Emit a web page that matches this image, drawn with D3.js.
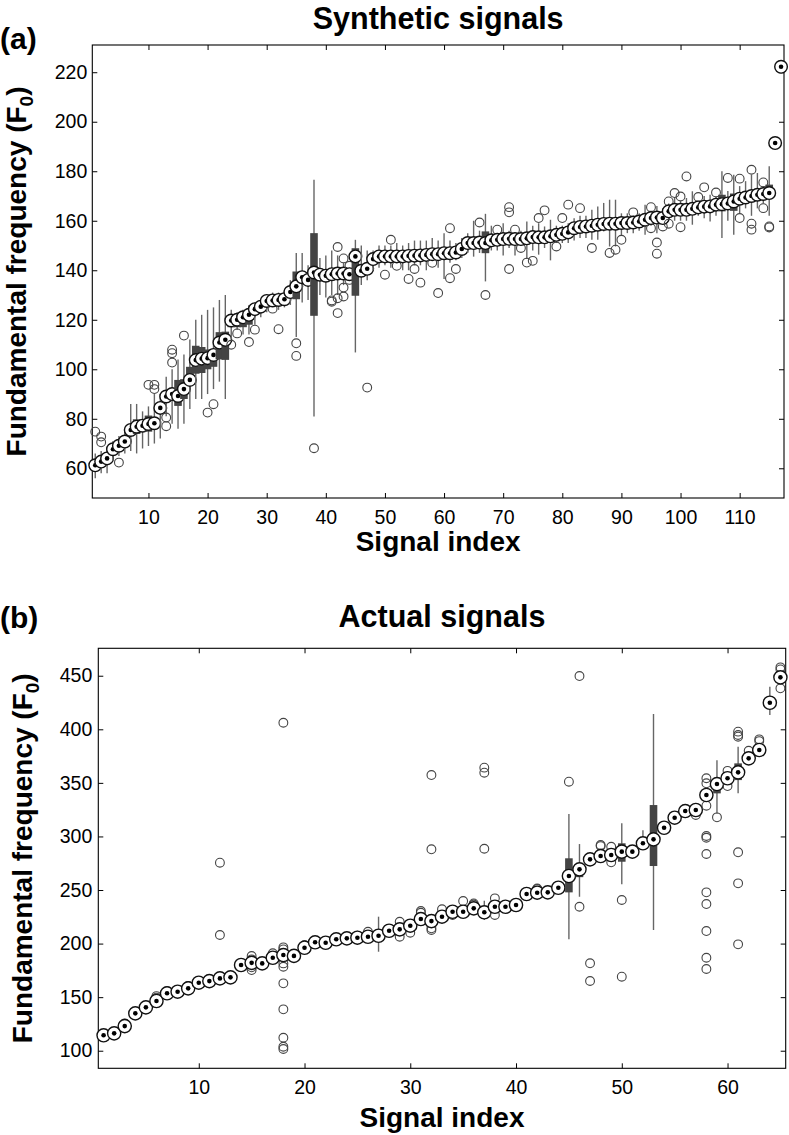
<!DOCTYPE html>
<html><head><meta charset="utf-8">
<script src="https://cdn.jsdelivr.net/npm/d3@7"></script>
<style>
body{margin:0;background:#fff}
text{font-family:"Liberation Sans",Arial,Helvetica,sans-serif}
</style>
</head><body>
<svg id="c" width="789" height="1135"></svg>
<script>
// ---------- Panel (a): Synthetic signals ----------
const medA = [61.2,62.7,64,67.7,69.1,70.8,75.5,76.8,77.2,77.9,
78.2,84.4,89,90,89.2,92,95.7,103.7,104.3,104.5,
105.8,110.8,111.9,119.7,120,121,122,124.3,125.3,127.6,
127.8,128,128.3,131.2,133.5,137.2,136.1,139.1,138.2,137.8,
138.4,138.7,138.7,138.4,145.6,139.8,140.6,144.5,145.6,145.6,
145.6,145.6,145.6,145.8,145.9,146,146.2,146.5,146.5,146.9,
146.9,147.2,148.6,151,151,151.2,151,152.1,152.3,152.6,
152.7,152.6,152.6,152.9,153.4,153.3,153.3,153.7,154.3,154.7,
155.3,157,157.5,157.7,158,158.4,158.7,158.8,158.8,159.1,
159.1,159.3,159.7,160.4,161.1,161.3,161.1,163.8,164.4,164.4,
164.4,164.8,165.4,165.7,165.8,166.5,166.7,167,167.8,168.9,
169.4,170,170.5,170.8,171.2,191.4,222.2];
const q1A = [60,61.5,63,66.5,68,69.5,74,73.9,75,74.8,
76.5,82,87.5,88,85.2,88,93.7,98.2,98.5,100,
101,104,103.8,117,117,117,118,122,124,126.5,
126.5,127,127,129.5,128.3,135,134,121.6,136,135.5,
136,136.5,136.5,136.5,129.7,138,139,143.5,144.5,144.5,
144.5,144.5,144.5,145,145,145,145,145.5,145.5,145.5,
146,146,147.5,150,150,150,146.9,151,151,151.5,
151.5,151.5,151.5,152,152.5,152.5,152.5,152.5,153.5,154,
154.5,156,156.5,156.5,157,157.5,157.5,157,157,158,
158,158.5,159,159.5,160,160,160,163,163.5,163.5,
163.5,164,164.5,165,165,165.5,163.8,166,164,168,
168.5,169,169.5,170,170.5,191,222];
const q3A = [62.2,63.5,65,68.5,70,72,77,79.8,79,81.3,
80,86,90.5,92,95.7,96,101,109.5,109,108,
108,115,115.2,121,121,122,123,125,126,128.5,
129,129,129.5,132.5,139.5,139,138,155,140,139.5,
140,141,141,140.5,148.9,142,142,145.5,146.5,146.5,
146.5,146.5,146.5,146.5,147,147,147,147.5,147.5,148,
148,148,149.5,152,152,152.5,155.7,153,153.5,153.5,
154,153.5,153.5,154,154.5,154.5,154.5,155,155.5,155.5,
156,158,158.5,158.5,159,159.5,159.5,161,161,160,
160,160.5,160.5,161.5,162,162.5,162,164.5,165,165.5,
165.5,166,166.5,166.5,167,167.5,170.5,168,171,170,
170.5,171,171.5,172,174.6,192,222.5];
const loA = [56,58,58,63,65,66,67,66,68,69,
70,72,81,78,76,78,84,88,88,90,
92,95,88,112,116,114,114,118,121,123,
125.5,124,125,126,113,127,128,80.9,130,129,
130,130,134,137,106.8,134,136,140,141,142,
141,143,140,140,142,142,140,144,141,136.5,
143,144,145,147,145.5,147,135.5,148,148,146,
149,146,150,144.5,148,146.3,149,144,151,151,
151,152,153,153,152.3,152.3,155.7,149.6,149.6,154,
155,155,156,154.3,158,155,158.5,160.5,160,160,
160,158.4,162,161,159.7,162,153,160,154.3,163,
165,162,165,167,162,191,222];
const hiA = [66,67,68,71,73,75,86,86,83,85,
90,90,97,100,104,106,112,120,122,124,
125,128,130,124,123,124,126,127,128,130,
131,131,132,136,147,147,142,176.6,145,146,
148,146,143,141,152.3,150,148,148,150,150,
150,151,150,151,152,152,152,153,152,155,
152,151,153,155,160,156,162.8,158,155,159,
156,155,156,159.7,158,159,157.7,160.4,158,158,
159,161,162,162,164.4,165.8,167.2,168.5,168.5,163,
163,162,163,166.5,164,166,165,167,169.5,168,
169.2,171.9,168,170,170.5,170,180,172,178.6,174,
176,178.6,179.3,174,182,192,222.5];
const outA = [[74.8],[72.8,70.5],[],[],[62.3],[],[],[],[77.5],[93.7],
[93.7,92],[],[80.5,77],[107.9,106.5,102.7],[],[113.6],[],[],[],[82.5],
[85.9],[],[],[109.9],[114.5],[],[111],[116],[],[],
[124.5],[116.2],[],[],[110.5,105.4],[],[],[68.1],[],[],
[127.8,127.3],[149.4,122.7,128.7],[144.8,133,129.4],[141.8,136.1],[],[],[92.6],[],[],[138.2],
[152.3],[141.8],[],[136.5],[140.5],[135],[],[143],[130.8],[],
[157,136.8],[140.5],[],[],[],[159.3],[130],[],[156.4],[],
[165.5,163.4,140.5],[156.4],[149],[143.1],[143.8],[161.1],[164.2],[],[149.6],[161.1],
[166.5],[],[165.1],[],[149],[],[],[147],[148.3],[152.3],
[],[163.4],[],[],[165.5,157],[151.2,146.7],[157.7],[158.8,167.8],[171.2],[169.8,157.4],
[177.9],[],[169.6],[173.5],[],[171.4],[],[177.3],[],[177,161.1],
[],[180.6,158.8,156.4],[],[175.5,165.1],[157.7,157.3],[],[]];
const xTicksA = [10,20,30,40,50,60,70,80,90,100,110];
const yTicksA = [60,80,100,120,140,160,180,200,220];

// ---------- Panel (b): Actual signals ----------
const medB = [114.4,116.2,123,134.9,140.5,146.4,153.6,155.1,158.2,163.5,
165,167.5,168.5,180,182,181.5,186.8,189.3,188.5,196.1,
201.2,200.8,204,204.9,205.5,206.4,207.3,212,213.3,216.7,
222.9,221,225.1,229.7,229.7,232.9,229.2,234.4,234.4,236,
246.3,247.5,247.8,252.1,263.1,269.3,278.6,281.7,282.7,285.8,
285.8,293.6,297.3,308.1,317.5,323.7,324.7,338.7,348.9,354.3,
359.8,372.9,380.7,424.8,448.5];
const q1B = [113.5,115,122,134,139.5,145,152.5,154,157,162.5,
164,166.5,167.5,179,180.5,180.5,186,188,187.5,195,
200.5,200,203,204,204.5,205.5,206,211,212,216,
222,220,224,229,229,232,228,233.5,233.5,235,
245.5,246.5,247,251,247.8,262,277.5,280.5,281.5,276.4,
285,292.5,272.4,307,316.5,322.5,323.5,337.5,340.2,353,
352.6,372,379.5,423.5,447.5];
const q3B = [115.5,117.5,124.5,136,141.5,147.5,154.5,156,159,164.5,
166,168.5,169.5,181,183.5,182.5,188,191,190,197,
202,202,205,206,206.5,207.5,208.5,213,214.5,217.5,
224,222,226,230.5,231,234,230.5,235.5,235.5,237,
247.5,248.5,249,253,279.6,273,279.5,283,284,293.6,
287,294.5,329.3,309,318.5,324.5,325.5,340,349.5,355.5,
368.2,374,382,426,449.5];
const loB = [112,114,121,133,138,144,151,153,156,161,
163,165,166,178,179,179,184,186,184,194,
199,199,202,200,199,204,192.4,209,210,214,
220,218,222,227,227,230,222,231,232,233,
244,245,245.5,249.5,204,243.7,273,278,279,255.3,
283,288,212.7,305,315,321,322,336,321.5,351,
340.2,370,378,413.3,446];
const hiB = [117,119,126,137,142,149,156,157,160,166,
167,170,171,182,185,184,189,192,193,198,
203,203,206,208,212,209,225.1,215,217,219,
226,224,228,232,233,236,240,237,237,239,
249,250,250.5,255,320.9,292.9,285,286,286,312.2,
289,305.7,414.3,311,320,326,327,342,371.1,357,
383.7,376,384,439.8,451];
const outB = [[],[],[125.5],[],[],[149.5,151],[155.5],[],[160.5],[],
[],[275.5,208],[],[],[188.4,185.3,177.8,175.3],[],[191],[406.1,196.5,194.6,181.5,178.4,162.9,138.6,112.1,103.7,101.6],[],[198.7],
[],[],[],[],[],[211],[],[],[220.4,206.4],[210.1],
[230.4,228.8],[357.3,288,214.2,212.7],[232],[226.7],[239.7],[237.5,236.5],[364.2,359.5,288.5],[242.2,226.7],[],[],
[],[250.9,251.5],[],[],[351.1],[449.7,234.4],[181.6,165.1],[292,291],[290.4,275.8],[240.7,169.1],
[],[],[],[],[],[],[320],[354.3,349.6,328.7,300.4,298.8,283.6,247.8,236.9,211.7,186.8,176.3],[317.8],[361.2,347],
[397.8,394.7,393.1,285.2,256.2,199.3],[380],[390.6,389],[],[457.8,455.9,438.2]];
const xTicksB = [10,20,30,40,50,60];
const yTicksB = [100,150,200,250,300,350,400,450];

const svg = d3.select("#c");

function panel(o) {
  const n = o.med.length;
  const idx = d3.range(1, n + 1);
  const x = d3.scaleLinear().domain([0.5, n + 0.5]).range([o.L, o.R]);
  const y = d3.scaleLinear().domain(o.yDom).range([o.B, o.T]);
  const g = svg.append("g");

  const fs = "19.5px";
  const ax = g.append("g").attr("transform", `translate(0,${o.B})`)
    .call(d3.axisBottom(x).tickValues(o.xTicks).tickSizeInner(-5).tickSizeOuter(0).tickPadding(o.xPad));
  const axT = g.append("g").attr("transform", `translate(0,${o.T})`)
    .call(d3.axisTop(x).tickValues(o.xTicks).tickSizeInner(-5).tickSizeOuter(0).tickFormat(""));
  const ay = g.append("g").attr("transform", `translate(${o.L},0)`)
    .call(d3.axisLeft(y).tickValues(o.yTicks).tickSizeInner(-5).tickSizeOuter(0).tickPadding(o.yPad));
  const ayR = g.append("g").attr("transform", `translate(${o.R},0)`)
    .call(d3.axisRight(y).tickValues(o.yTicks).tickSizeInner(-5).tickSizeOuter(0).tickFormat(""));
  [ax, axT, ay, ayR].forEach(a => {
    a.select(".domain").remove();
    a.selectAll(".tick line").attr("stroke", "#000").attr("stroke-width", 1);
    a.selectAll(".tick text").attr("fill", "#000").style("font-size", fs)
      .style("font-family", '"Liberation Sans",Arial,sans-serif');
  });
  g.append("rect").attr("x", o.L).attr("y", o.T).attr("width", o.R - o.L).attr("height", o.B - o.T)
    .attr("fill", "none").attr("stroke", "#000").attr("stroke-width", 1.1);

  const plot = g.append("g");
  const bw = 7.6;
  idx.forEach((s, i) => {
    const gg = plot.append("g");
    gg.append("line").attr("x1", x(s)).attr("x2", x(s))
      .attr("y1", y(o.lo[i])).attr("y2", y(o.hi[i]))
      .attr("stroke", "#666").attr("stroke-width", 1.4);
    gg.append("rect").attr("x", x(s) - bw / 2).attr("width", bw)
      .attr("y", y(o.q3[i])).attr("height", Math.max(0, y(o.q1[i]) - y(o.q3[i])))
      .attr("fill", "#444");
    o.out[i].forEach(v => {
      gg.append("circle").attr("cx", x(s)).attr("cy", y(v)).attr("r", 4.4)
        .attr("fill", "none").attr("stroke", "#444").attr("stroke-width", 1.1);
    });
    gg.append("circle").attr("cx", x(s)).attr("cy", y(o.med[i])).attr("r", o.mr)
      .attr("fill", "#fff").attr("stroke", "#111").attr("stroke-width", 1.4);
    gg.append("circle").attr("cx", x(s)).attr("cy", y(o.med[i])).attr("r", 2.3)
      .attr("fill", "#000");
  });

  const cx = (o.L + o.R) / 2, cy = (o.T + o.B) / 2;
  svg.append("text").attr("x", 0).attr("y", o.tagY).text(o.tag)
    .style("font-size", "30px").style("font-weight", "bold");
  svg.append("text").attr("x", cx).attr("y", o.titleY).attr("text-anchor", "middle").text(o.title)
    .style("font-size", "30.5px").style("font-weight", "bold");
  svg.append("text").attr("x", cx).attr("y", o.xLabY).attr("text-anchor", "middle").text("Signal index")
    .style("font-size", "28px").style("font-weight", "bold");
  const yl = svg.append("text").attr("transform", `translate(${o.yLabX},${cy}) rotate(-90)`)
    .attr("text-anchor", "middle").style("font-size", "28px").style("font-weight", "bold");
  yl.append("tspan").text("Fundamental frequency (F");
  yl.append("tspan").text("0").attr("dy", 7).style("font-size", "19px");
  yl.append("tspan").text(")").attr("dy", -7);
}

panel({med: medA, q1: q1A, q3: q3A, lo: loA, hi: hiA, out: outA,
  xTicks: xTicksA, yTicks: yTicksA, yDom: [48, 231], mr: 6.3,
  L: 92.3, R: 784, T: 45, B: 498, xPad: 12, yPad: 5,
  tag: "(a)", tagY: 49, title: "Synthetic signals", titleY: 28.5, xLabY: 551, yLabX: 26});
panel({med: medB, q1: q1B, q3: q3B, lo: loB, hi: hiB, out: outB,
  xTicks: xTicksB, yTicks: yTicksB, yDom: [83.6, 475.6], mr: 6.6,
  L: 98.3, R: 785.7, T: 648.3, B: 1068.3, xPad: 12, yPad: 6,
  tag: "(b)", tagY: 628, title: "Actual signals", titleY: 627, xLabY: 1127, yLabX: 32});
</script>
</body></html>
